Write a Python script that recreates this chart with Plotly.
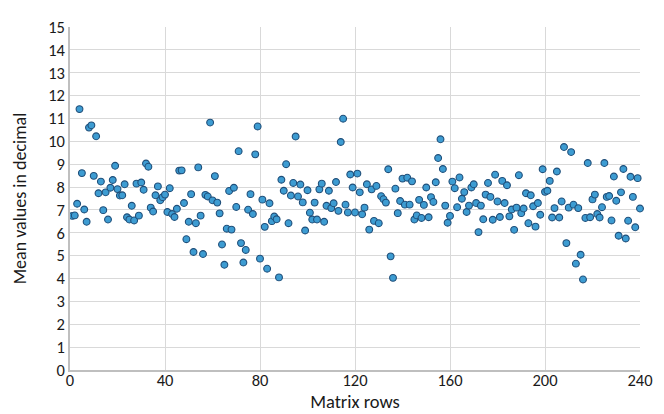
import plotly.graph_objects as go

rows = list(range(1, 241))

mean_values = [
    6.74, 6.76, 7.27, 11.41, 8.61, 7.02, 6.48, 10.60, 10.70, 8.49,
    10.22, 7.73, 8.24, 6.99, 7.77, 6.58, 7.97, 8.31, 8.93, 7.91,
    7.63, 7.64, 8.12, 6.68, 6.58, 7.18, 6.54, 8.15, 6.75, 8.20,
    7.88, 9.03, 8.89, 7.10, 6.93, 7.64, 8.03, 7.42, 7.56, 7.67,
    6.91, 7.95, 6.82, 6.69, 7.05, 8.72, 8.73, 7.30, 5.72, 6.48,
    7.69, 5.16, 6.42, 8.86, 6.75, 5.07, 7.66, 7.59, 10.82, 7.42,
    8.48, 7.32, 6.85, 5.49, 4.60, 6.18, 7.83, 6.14, 7.97, 7.13,
    9.57, 5.55, 4.70, 5.25, 7.01, 7.69, 6.82, 9.43, 10.65, 4.87,
    7.45, 6.26, 4.43, 7.29, 6.51, 6.71, 6.59, 4.05, 8.32, 7.84,
    9.00, 6.42, 7.63, 8.18, 10.21, 7.59, 8.11, 7.33, 6.10, 7.86,
    6.88, 6.58, 7.32, 6.58, 7.90, 8.15, 6.48, 7.18, 7.84, 7.08,
    7.29, 8.22, 6.96, 9.97, 10.99, 7.23, 6.89, 8.55, 7.98, 6.89,
    8.59, 7.77, 6.81, 7.10, 8.12, 6.14, 7.90, 6.52, 8.05, 6.42,
    7.60, 7.47, 7.32, 8.78, 4.97, 4.03, 7.93, 6.86, 7.39, 8.37,
    7.23, 8.41, 7.23, 8.25, 6.58, 6.76, 7.44, 6.65, 7.22, 7.98,
    6.68, 7.56, 7.35, 8.21, 9.27, 10.09, 8.79, 7.19, 6.44, 6.74,
    8.24, 7.95, 7.12, 8.42, 7.49, 7.78, 6.91, 7.19, 7.98, 8.12,
    7.30, 6.03, 7.19, 6.59, 7.67, 8.18, 7.57, 6.57, 8.54, 7.37,
    6.69, 8.27, 7.30, 8.08, 6.72, 7.02, 6.13, 7.10, 8.52, 6.86,
    7.06, 7.73, 6.42, 7.64, 7.16, 6.27, 7.30, 6.79, 8.78, 7.79,
    7.84, 8.27, 6.67, 7.08, 8.68, 6.67, 7.37, 9.75, 5.55, 7.10,
    9.53, 7.23, 4.65, 7.08, 5.04, 3.96, 6.65, 9.05, 6.68, 7.46,
    7.67, 6.82, 6.67, 7.12, 9.05, 7.57, 7.61, 6.54, 8.46, 7.40,
    5.87, 7.77, 8.79, 5.75, 6.53, 8.45, 7.57, 6.24, 8.39, 7.06,
]

x_ticks = [0, 40, 80, 120, 160, 200, 240]
y_ticks = list(range(0, 16))

font_family = "Carlito, Lato, 'Open Sans', sans-serif"

fig = go.Figure()
fig.add_trace(go.Scatter(
    x=rows, y=mean_values, mode="markers",
    marker=dict(size=6.8, color="#3d9cd2", line=dict(color="#1f4e79", width=1.1)),
    showlegend=False, cliponaxis=False,
))

fig.update_layout(
    width=664, height=414,
    margin=dict(l=62, r=32, t=9, b=52),
    paper_bgcolor="white", plot_bgcolor="white",
    font=dict(family=font_family, size=16, color="#1a1a1a"),
)
fig.update_xaxes(
    range=[0, 240], tickvals=x_ticks, ticktext=[str(t) for t in x_ticks],
    showgrid=True, gridcolor="#d9d9d9", gridwidth=1,
    showline=True, linecolor="#bfbfbf", linewidth=1.5,
    zeroline=False, ticks="", ticklabelstandoff=-6,
    ticklabeloverflow="allow",
    title=dict(text="Matrix rows", font=dict(size=18.5), standoff=0),
    tickfont=dict(size=16.5),
)
fig.update_yaxes(
    range=[0, 15], tickvals=y_ticks, ticktext=[str(t) for t in y_ticks],
    showgrid=True, gridcolor="#d9d9d9", gridwidth=1,
    showline=True, linecolor="#bfbfbf", linewidth=1.5,
    zeroline=False, ticks="", ticklabeloverflow="allow",
    title=dict(text="Mean values in decimal", font=dict(size=18), standoff=17),
    tickfont=dict(size=16.5),
)

fig.write_html("out.html")
